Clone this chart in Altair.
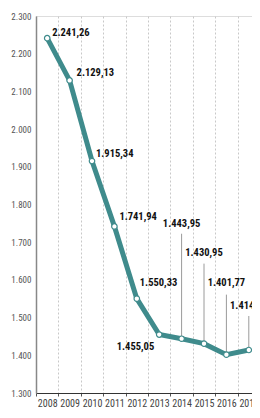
import altair as alt
import pandas as pd

years = ["2008", "2009", "2010", "2011", "2012", "2013", "2014", "2015", "2016", "2017"]
values = [2241.26, 2129.13, 1915.34, 1741.94, 1550.33, 1455.05, 1443.95, 1430.95, 1401.77, 1414.05]
y_ticks = [1300, 1400, 1500, 1600, 1700, 1800, 1900, 2000, 2100, 2200, 2300]


def fmt(v):
    s = f"{v:,.2f}"
    return s.replace(",", "X").replace(".", ",").replace("X", ".")


labels = [fmt(v) for v in values]
df = pd.DataFrame({"year": years, "value": values, "label": labels})

FONT = "Roboto Condensed, Lato, sans-serif"
TEAL = "#3f8b8c"
PLOT_H = 377
PX_PER_UNIT = PLOT_H / 1000.0
X_RANGE = 224

x_enc = alt.X(
    "year:O",
    scale=alt.Scale(type="band", paddingInner=0, paddingOuter=0, range=[0, X_RANGE]),
    axis=alt.Axis(
        title=None,
        labelAngle=0,
        labelFont=FONT,
        labelFontSize=10,
        labelColor="#444",
        labelPadding=2,
        labelOverlap=False,
        domainColor="#333",
        domainWidth=1.2,
        tickColor="#555",
        tickSize=3,
        tickBand="extent",
        grid=True,
        gridColor="#c8c8c8",
        gridDash=[2, 2],
        gridWidth=1,
    ),
)
y_enc = alt.Y(
    "value:Q",
    scale=alt.Scale(domain=[1300, 2300], nice=False, zero=False),
    axis=alt.Axis(
        title=None,
        values=y_ticks,
        labelExpr="replace(format(datum.value, ','), ',', '.')",
        labelFont=FONT,
        labelFontSize=9,
        labelColor="#555",
        labelPadding=5,
        labelOverlap=False,
        ticks=False,
        grid=False,
        domainColor="#888",
        domainWidth=1.5,
    ),
)

base = alt.Chart(df)

line = base.mark_line(color=TEAL, strokeWidth=5).encode(x=x_enc, y=y_enc)
points = base.mark_point(
    filled=True, fill="white", stroke=TEAL, strokeWidth=1.2, size=30, opacity=1
).encode(x=x_enc, y=y_enc)

# label placement (style): year -> (dx, dy, align)
label_style = {
    "2008": (5, -5, "left"),
    "2009": (7, -7, "left"),
    "2010": (4, -7, "left"),
    "2011": (5, -9, "left"),
    "2012": (3, -16, "left"),
    "2013": (-5, 12, "right"),
    "2014": (0, -115, "center"),
    "2015": (0, -91, "center"),
    "2016": (0, -72, "center"),
    "2017": (0, -44, "center"),
}
# leader line lengths in pixels (style)
leader_px = {"2014": 105, "2015": 80, "2016": 60, "2017": 34}

text_layers = []
for yr, (dx, dy, al) in label_style.items():
    text_layers.append(
        base.transform_filter(alt.datum.year == yr)
        .mark_text(
            dx=dx, dy=dy, align=al, baseline="middle",
            font=FONT, fontSize=10.5, fontWeight="bold", color="#111",
        )
        .encode(x=x_enc, y=y_enc, text="label:N")
    )

leader_layers = []
for yr, px in leader_px.items():
    leader_layers.append(
        base.transform_filter(alt.datum.year == yr)
        .transform_calculate(top=f"datum.value + {px / PX_PER_UNIT}")
        .mark_rule(color="#9a9a9a", strokeWidth=1)
        .encode(x=x_enc, y=y_enc, y2="top:Q")
    )

chart = (
    alt.layer(*leader_layers, line, points, *text_layers)
    .properties(
        width=216,
        height=PLOT_H,
        autosize=alt.AutoSizeParams(type="none"),
        padding={"left": 28, "top": 8, "right": 0, "bottom": 402 - 8 - PLOT_H},
    )
    .configure_view(stroke=None)
    .configure_axisY(labelOverlap=False)
    .configure(background="white")
)

chart.save("out.html", embed_options={"renderer": "svg", "actions": False})
